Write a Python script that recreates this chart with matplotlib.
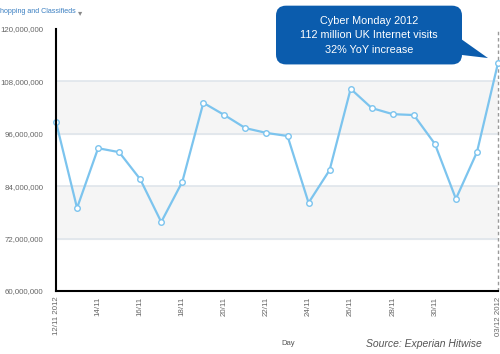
import numpy as np
import matplotlib.pyplot as plt
from matplotlib.patches import FancyBboxPatch, Polygon

plt.rcParams['font.family'] = ['Liberation Sans', 'DejaVu Sans']

# Daily UK visits to Shopping and Classifieds sites, 12/11/2012 - 03/12/2012
days = ['12/11', '13/11', '14/11', '15/11', '16/11', '17/11', '18/11', '19/11',
        '20/11', '21/11', '22/11', '23/11', '24/11', '25/11', '26/11', '27/11',
        '28/11', '29/11', '30/11', '01/12', '02/12', '03/12']
visits = [98.7, 79.0, 92.7, 91.8, 85.6, 75.8, 85.0, 103.1, 100.3, 97.3, 96.2,
          95.5, 80.2, 87.7, 106.3, 101.9, 100.5, 100.3, 93.7, 81.1, 91.8, 112.2]
visits = [v * 1e6 for v in visits]

tick_idx = [0, 2, 4, 6, 8, 10, 12, 14, 16, 18, 21]
tick_labels = ['12/11 2012', '14/11', '16/11', '18/11', '20/11', '22/11',
               '24/11', '26/11', '28/11', '30/11', '03/12 2012']
y_ticks = [60e6, 72e6, 84e6, 96e6, 108e6, 120e6]

fig = plt.figure(figsize=(5, 3.54), dpi=100)
ax = fig.add_axes([0.112, 0.178, 0.884, 0.740])

x = np.arange(len(days))

# alternating bands
ax.axhspan(96e6, 108e6, color='#f5f5f5', zorder=0)
ax.axhspan(72e6, 84e6, color='#f5f5f5', zorder=0)
for yv in y_ticks[1:-1]:
    ax.axhline(yv, color='#dfe5eb', lw=1.2, zorder=1)

ax.plot(x, visits, color='#7cc4ee', lw=1.6, marker='o', ms=4,
        mfc='white', mec='#7cc4ee', mew=1.0, zorder=3, clip_on=False)

ax.axvline(x[-1], color='#9a9a9a', lw=1, ls=(0, (2.5, 2)), zorder=2, clip_on=False)

ax.set_xlim(0, len(days) - 1)
ax.set_ylim(60e6, 120e6)
ax.set_yticks(y_ticks)
ax.set_yticklabels([f'{int(v):,}' for v in y_ticks], fontsize=5.7, color='#666666')
ax.set_xticks(tick_idx)
ax.set_xticklabels(tick_labels, rotation=90, fontsize=5.7, color='#666666')
ax.tick_params(axis='y', length=0, pad=9)
ax.tick_params(axis='x', length=0, pad=4)

for s in ['top', 'right']:
    ax.spines[s].set_visible(False)
ax.spines['left'].set_linewidth(1.5)
ax.spines['bottom'].set_linewidth(1.5)
ax.spines['left'].set_zorder(4)
ax.spines['bottom'].set_zorder(4)

# top-left filter label
fig.text(0.0, 0.968, 'hopping and Classifieds', fontsize=5.1,
         color='#3a7fc1', ha='left', va='center')
fig.text(0.156, 0.965, '\u25BE', fontsize=6, color='#888888', ha='left', va='center',
         family='DejaVu Sans')

# callout
box_color = '#0b5cad'
box = FancyBboxPatch((0.552, 0.818), 0.372, 0.166,
                     boxstyle='round,pad=0,rounding_size=0.02',
                     transform=fig.transFigure, fc=box_color, ec='none',
                     mutation_aspect=1.4)
fig.patches.append(box)
tail = Polygon([(0.922, 0.890), (0.922, 0.845), (0.976, 0.836)],
               closed=True, transform=fig.transFigure, fc=box_color, ec='none')
fig.patches.append(tail)
fig.text(0.738, 0.900, 'Cyber Monday 2012\n112 million UK Internet visits\n32% YoY increase',
         color='white', fontsize=7.8, ha='center', va='center', linespacing=1.6)

fig.text(0.576, 0.030, 'Day', fontsize=5.5, color='#555555', ha='center', va='center')
fig.text(0.732, 0.028, 'Source: Experian Hitwise', fontsize=7.5, style='italic',
         color='#555555', ha='left', va='center')

fig.savefig('out.png', dpi=100)
